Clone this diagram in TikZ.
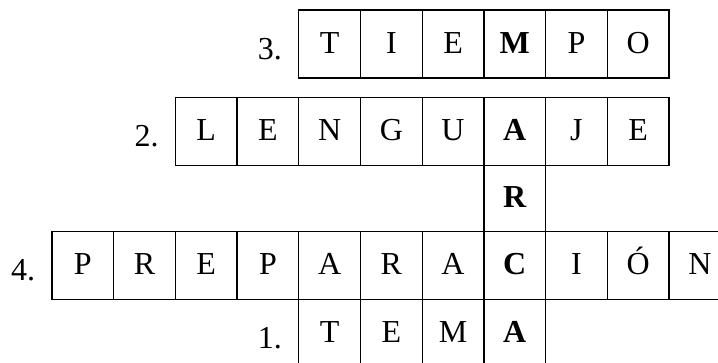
\documentclass[tikz,border=0pt]{standalone}
\usepackage{fontspec}
\setmainfont{Liberation Serif}
\usetikzlibrary{positioning}

\begin{document}
\begin{tikzpicture}[
  x=1pt, y=-1pt,
  cell/.style={draw, line width=1.3pt, minimum width=61.7pt, minimum height=68pt, inner sep=0pt,
    text height=18pt, text depth=0pt, font=\fontsize{32}{34}\selectfont},
  num/.style={inner sep=0pt, yshift=-5pt, font=\fontsize{32}{34}\selectfont},
]
  \useasboundingbox (0,0) rectangle (718,362);
  \clip (0,0) rectangle (718,362);

  % 3. tiempo
  \foreach \l [count=\i from 4] in {T,I,E,\textbf{M},P,O}
    \node[cell] (tiempo\i) at ({82.85+61.7*\i},44) {\l};
  % 2. lenguaje
  \foreach \l [count=\i from 2] in {L,E,N,G,U,\textbf{A},J,E}
    \node[cell] (lenguaje\i) at ({82.85+61.7*\i},131.5) {\l};
  % letra suelta
  \node[cell, minimum height=66pt] (marca3) at ({82.85+61.7*7},198.5) {\textbf{R}};
  % 4. preparacion
  \foreach \l [count=\i from 0] in {P,R,E,P,A,R,A,\textbf{C},I,Ó,N}
    \node[cell] (prep\i) at ({82.85+61.7*\i},265.5) {\l};
  % 1. tema
  \foreach \l [count=\i from 4] in {T,E,M,\textbf{A}}
    \node[cell] (tema\i) at ({82.85+61.7*\i},333.5) {\l};

  \node[num, left=16pt of tiempo4] (n3) {3.};
  \node[num, left=16pt of lenguaje2] (n2) {2.};
  \node[num, left=16pt of prep0] (n4) {4.};
  \node[num, left=16pt of tema4] (n1) {1.};
\end{tikzpicture}
\end{document}
